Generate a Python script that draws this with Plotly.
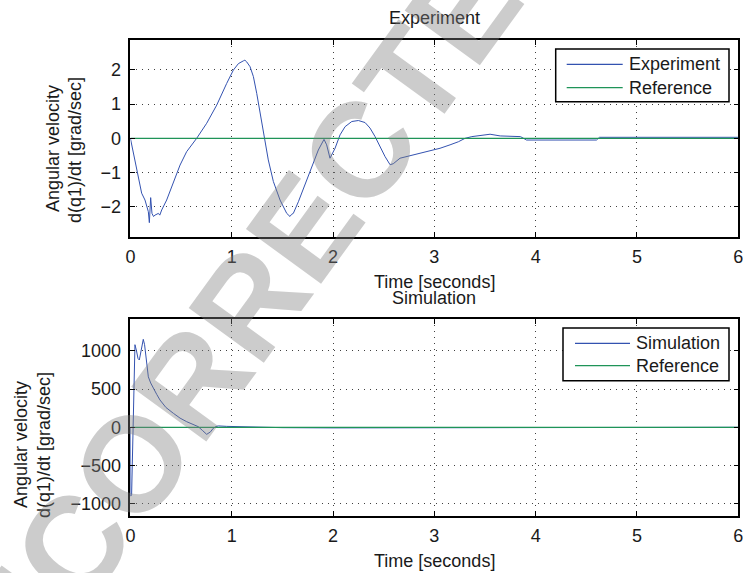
import plotly.graph_objects as go

# ---------------- data ----------------
exp_t = [0.0, 0.03, 0.062, 0.09, 0.111, 0.144, 0.177, 0.187, 0.200, 0.213, 0.228, 0.243,
         0.26, 0.276, 0.29, 0.309, 0.358, 0.424, 0.49, 0.555, 0.654, 0.753, 0.852, 0.95,
         1.016, 1.066, 1.10, 1.115, 1.13, 1.148, 1.181, 1.214, 1.247, 1.279, 1.322, 1.361,
         1.411, 1.477, 1.543, 1.575, 1.59, 1.608, 1.658, 1.723, 1.789, 1.855, 1.911, 1.937,
         1.970, 2.020, 2.069, 2.119, 2.185, 2.250, 2.316, 2.365, 2.415, 2.464, 2.513, 2.563,
         2.595, 2.661, 2.760, 2.859, 2.990, 3.056, 3.155, 3.237, 3.303, 3.37, 3.50, 3.55,
         3.65, 3.85, 3.91, 4.04, 4.30, 4.60, 4.63, 5.00, 5.40, 5.80, 6.0]
exp_v = [0.0, -0.45, -0.92, -1.30, -1.60, -1.80, -2.14, -2.46, -1.73, -2.19, -2.28, -2.24,
         -2.20, -2.19, -2.24, -2.09, -1.80, -1.26, -0.78, -0.39, 0.0, 0.44, 0.97, 1.60,
         1.99, 2.18, 2.22, 2.26, 2.28, 2.23, 2.09, 1.80, 1.31, 0.73, 0.0, -0.63,
         -1.26, -1.80, -2.19, -2.28, -2.22, -2.19, -1.85, -1.36, -0.83, -0.34, -0.03, -0.19,
         -0.58, -0.29, 0.10, 0.34, 0.49, 0.52, 0.46, 0.30, 0.05, -0.24, -0.53, -0.77,
         -0.74, -0.58, -0.51, -0.44, -0.34, -0.29, -0.19, -0.10, 0.0, 0.05, 0.10, 0.12,
         0.07, 0.05, -0.05, -0.05, -0.05, -0.05, 0.03, 0.03, 0.03, 0.03, 0.03]

sim_t = [0.0, 0.003, 0.012, 0.025, 0.035, 0.045, 0.06, 0.075, 0.088, 0.105, 0.118, 0.127,
         0.14, 0.16, 0.177, 0.20, 0.226, 0.26, 0.292, 0.35, 0.424, 0.49, 0.556, 0.62, 0.670,
         0.71, 0.753, 0.79, 0.818, 0.845, 0.868, 0.95, 1.1, 1.5, 2.0, 3.0, 4.0, 5.0, 6.0]
sim_v = [0.0, -900, -880, -200, 700, 1080, 1000, 900, 880, 1010, 1120, 1150,
         1080, 820, 660, 580, 510, 430, 357, 260, 183, 120, 73, 35, 8,
         -40, -92, -60, -13, 10, 18, 12, 5, -5, -8, -6, -4, -2, 0]

ref_t = [0.0, 6.0]
ref_v = [0.0, 0.0]

x_ticks = [0, 1, 2, 3, 4, 5, 6]
top_yticks = [-2, -1, 0, 1, 2]
bot_yticks = [-1000, -500, 0, 500, 1000]

# ---------------- style ----------------
W, H = 743, 573
BLUE = "#3352b0"
GREEN = "#1f9458"
TXT = "#1a1a1a"
FONT = "Liberation Sans, Arial, Helvetica, sans-serif"


def px(x):
    return x / W


def py(y):
    return 1 - y / H


fig = go.Figure()
fig.add_trace(go.Scatter(x=exp_t, y=exp_v, mode="lines", name="Experiment",
                         line=dict(color=BLUE, width=1), xaxis="x", yaxis="y", showlegend=False))
fig.add_trace(go.Scatter(x=ref_t, y=ref_v, mode="lines", name="Reference",
                         line=dict(color=GREEN, width=1.2), xaxis="x", yaxis="y", showlegend=False))
fig.add_trace(go.Scatter(x=sim_t, y=sim_v, mode="lines", name="Simulation",
                         line=dict(color=BLUE, width=1), xaxis="x2", yaxis="y2", showlegend=False))
fig.add_trace(go.Scatter(x=ref_t, y=ref_v, mode="lines", name="Reference",
                         line=dict(color=GREEN, width=1.2), xaxis="x2", yaxis="y2", showlegend=False))

axis_common = dict(
    showline=True, linecolor="black", linewidth=1.5, mirror="ticks",
    ticks="inside", ticklen=5, tickcolor="black", tickwidth=1,
    showgrid=True, gridcolor="rgba(0,0,0,0.75)", gridwidth=1, griddash="1px,5px",
    zeroline=False, tickfont=dict(family=FONT, size=18, color=TXT),
    automargin=False, ticklabeloverflow="allow",
)
xdom = [px(130.4), px(738.3)]
fig.update_layout(
    width=W, height=H,
    margin=dict(l=0, r=0, t=0, b=0),
    paper_bgcolor="white", plot_bgcolor="white",
    font=dict(family=FONT, color=TXT),
    xaxis=dict(domain=xdom, anchor="y", range=[0, 6], tickvals=x_ticks,
               ticklabelstandoff=3, **axis_common),
    yaxis=dict(domain=[py(236.7), py(40.3)], anchor="x", range=[-2.87, 2.86],
               tickvals=top_yticks, ticklabelstandoff=4, **axis_common),
    xaxis2=dict(domain=xdom, anchor="y2", range=[0, 6], tickvals=x_ticks,
                ticklabelstandoff=3, **axis_common),
    yaxis2=dict(domain=[py(515.7), py(319)], anchor="x2", range=[-1156, 1416],
                tickvals=bot_yticks, ticklabelstandoff=4, **axis_common),
)

ann = []


def text(x, y, s, size=18, angle=0, xanchor="center"):
    ann.append(dict(x=px(x), y=py(y), xref="paper", yref="paper", text=s, showarrow=False,
                    font=dict(family=FONT, size=size, color=TXT), textangle=angle,
                    xanchor=xanchor, yanchor="middle"))


# titles
text(434.3, 18.3, "Experiment")
text(434.3, 281.7, "Time [seconds]")
text(434.3, 298.3, "Simulation")
text(434.3, 561, "Time [seconds]")
text(53, 149, "Angular velocity", angle=-90)
text(75, 150, "d(q1)/dt [grad/sec]", angle=-90)
text(21, 445, "Angular velocity", angle=-90)
text(44, 445, "d(q1)/dt [grad/sec]", angle=-90)

# legends (drawn manually)
shapes = []


def legend(x0, x1, y0, y1, lx0, lx1, tx, rows):
    shapes.append(dict(type="rect", xref="paper", yref="paper", x0=px(x0), x1=px(x1),
                       y0=py(y1), y1=py(y0), line=dict(color="black", width=1.5),
                       fillcolor="white", layer="above"))
    for (yy, label, col) in rows:
        shapes.append(dict(type="line", xref="paper", yref="paper", x0=px(lx0), x1=px(lx1),
                           y0=py(yy), y1=py(yy), line=dict(color=col, width=1.2), layer="above"))
        text(tx, yy, label, xanchor="left")


legend(555.7, 729, 49, 101.7, 566.7, 622.7, 627,
       [(64.3, "Experiment", BLUE), (87.7, "Reference", GREEN)])
legend(563, 729, 328, 380.7, 575, 630, 634,
       [(343.3, "Simulation", BLUE), (365.7, "Reference", GREEN)])

# watermark
ann.append(dict(x=px(238), y=py(318), xref="paper", yref="paper", text="<b>UNCORRECTED</b>",
                showarrow=False, textangle=-54,
                font=dict(family="Liberation Sans, Arial, sans-serif", size=135,
                          color="rgba(128,128,128,0.4)"),
                xanchor="center", yanchor="middle"))

fig.update_layout(annotations=ann, shapes=shapes)
fig.write_html("out.html")
